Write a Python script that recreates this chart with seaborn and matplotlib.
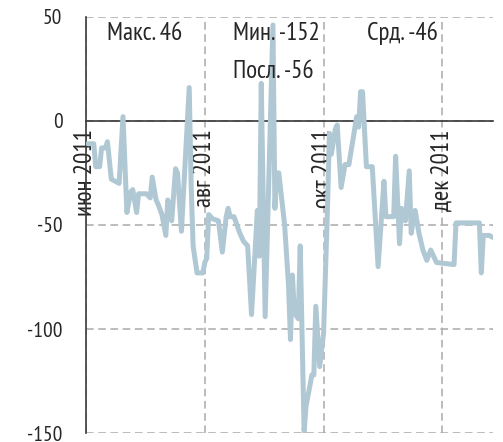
import matplotlib
matplotlib.use("Agg")
import matplotlib.pyplot as plt
import seaborn as sns
import pandas as pd

# значения
dates = [
    "2011-06-02", "2011-06-05", "2011-06-06", "2011-06-08", "2011-06-09",
    "2011-06-11", "2011-06-12", "2011-06-14", "2011-06-16", "2011-06-18",
    "2011-06-20", "2011-06-22", "2011-06-24", "2011-06-25", "2011-06-27",
    "2011-06-28", "2011-07-02", "2011-07-04", "2011-07-05", "2011-07-07",
    "2011-07-08", "2011-07-10", "2011-07-12", "2011-07-13", "2011-07-14",
    "2011-07-15", "2011-07-17", "2011-07-18", "2011-07-20", "2011-07-24",
    "2011-07-25", "2011-07-26", "2011-07-28", "2011-07-31", "2011-08-01",
    "2011-08-02", "2011-08-03", "2011-08-05", "2011-08-08", "2011-08-10",
    "2011-08-12", "2011-08-13", "2011-08-14", "2011-08-16", "2011-08-19",
    "2011-08-21", "2011-08-23", "2011-08-25", "2011-08-28", "2011-08-29",
    "2011-08-30", "2011-09-01", "2011-09-05", "2011-09-06", "2011-09-07",
    "2011-09-08", "2011-09-11", "2011-09-13", "2011-09-14", "2011-09-15",
    "2011-09-16", "2011-09-18", "2011-09-19", "2011-09-21", "2011-09-22",
    "2011-09-25", "2011-09-26", "2011-09-27", "2011-09-29", "2011-10-01",
    "2011-10-03", "2011-10-04", "2011-10-05", "2011-10-07", "2011-10-08",
    "2011-10-10", "2011-10-12", "2011-10-14", "2011-10-18", "2011-10-19",
    "2011-10-20", "2011-10-21", "2011-10-23", "2011-10-26", "2011-10-29",
    "2011-11-01", "2011-11-02", "2011-11-06", "2011-11-07", "2011-11-09",
    "2011-11-10", "2011-11-12", "2011-11-14", "2011-11-15", "2011-11-17",
    "2011-11-19", "2011-11-21", "2011-11-23", "2011-11-25", "2011-11-28",
    "2011-12-07", "2011-12-08", "2011-12-20", "2011-12-21", "2011-12-22",
    "2011-12-25", "2011-12-27",
]
values = [
    -11, -11, -22, -22, -13,
    -13, -10, -28, -29, -30,
    2, -44, -34, -33, -44,
    -35, -35, -37, -27, -38,
    -40, -45, -55, -38, -41,
    -48, -23, -25, -53, 16,
    -31, -60, -73, -73, -68,
    -66, -45, -47, -48, -63,
    -46, -42, -46, -46, -54,
    -58, -60, -93, -43, -65,
    18, -94, 46, -42, -25,
    -25, -50, -79, -105, -74,
    -92, -95, -60, -149, -137,
    -122, -122, -89, -118, -102,
    -42, -6, -16, -4, -2,
    -32, -21, -21, 2, -3,
    14, 14, -22, -22, -70,
    -29, -46, -46, -17, -59,
    -42, -48, -24, -54, -43,
    -54, -62, -67, -62, -68,
    -69, -49, -49, -73, -55,
    -55, -56,
]

tick_dates = ["2011-06-01", "2011-08-01", "2011-10-01", "2011-12-01"]
tick_labels = ["июн 2011", "авг 2011", "окт 2011", "дек 2011"]
y_ticks = [50, 0, -50, -100, -150]

# подписи статистики: текст, x и y в пикселях от левого верхнего угла
stats = [("Макс. 46", 107, 33), ("Мин. -152", 233, 33),
         ("Срд. -46", 367, 33), ("Посл. -56", 233, 71)]

sns.set_style("white")
plt.rcParams["font.family"] = ["PT Sans Narrow", "DejaVu Sans"]

df = pd.DataFrame({"date": pd.to_datetime(dates), "value": values})

W, H = 503, 442
fig = plt.figure(figsize=(W / 100, H / 100), dpi=100)
ax = fig.add_axes([86 / W, 1 - 433.3 / H, (493 - 86) / W, (433.3 - 16.7) / H])

sns.lineplot(data=df, x="date", y="value", ax=ax, color="#b0c8d4",
             linewidth=3.6, solid_joinstyle="round", solid_capstyle="round",
             zorder=3)

ax.set_xlim(pd.Timestamp("2011-06-01"), pd.Timestamp("2011-12-27"))
ax.set_ylim(-150, 50)

ax.set_xticks(pd.to_datetime(tick_dates), tick_labels)
ax.set_yticks(y_ticks, [str(v) for v in y_ticks])
ax.set_xlabel("")
ax.set_ylabel("")

# сетка пунктиром
ax.grid(True, linestyle=(0, (5, 3)), color="#aaaaaa", linewidth=1.1)

for s in ["top", "right"]:
    ax.spines[s].set_visible(False)
ax.spines["left"].set_color("#3a3a3a")
ax.spines["left"].set_linewidth(1.2)
ax.spines["bottom"].set_position(("data", 0))
ax.spines["bottom"].set_color("#3a3a3a")
ax.spines["bottom"].set_linewidth(1.2)

ax.tick_params(axis="x", direction="out", length=5, width=1.2,
               color="#3a3a3a", pad=1, labelrotation=90, labelsize=18)
ax.tick_params(axis="y", direction="out", length=6, width=1.2,
               color="#3a3a3a", pad=11, labelsize=15.5)

for txt, px, py in stats:
    fig.text(px / W, 1 - py / H, txt, fontsize=18, ha="left", va="center")

fig.savefig("out.png", dpi=100)
